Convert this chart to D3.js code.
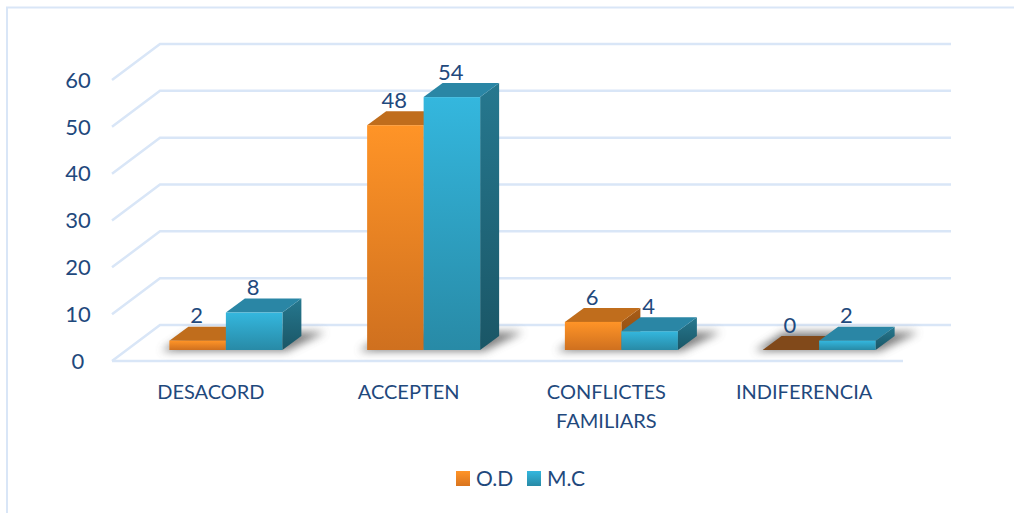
<!DOCTYPE html>
<html>
<head>
<meta charset="utf-8">
<script src="https://cdn.jsdelivr.net/npm/d3@7"></script>
<style>
  html, body { margin: 0; padding: 0; background: #fff; }
  text { font-family: Lato, "Open Sans", sans-serif; fill: #1f497d; }
</style>
</head>
<body>
<svg id="chart"></svg>
<script>
const categories = [["DESACORD"], ["ACCEPTEN"], ["CONFLICTES", "FAMILIARS"], ["INDIFERENCIA"]];
const seriesNames = ["O.D", "M.C"];
const odValues = [2, 48, 6, 0];
const mcValues = [8, 54, 4, 2];
const yTicks = [0, 10, 20, 30, 40, 50, 60];

const width = 1014;
const height = 513;
const gridColor = "#d9e6f7";
// 3d projection of the floor, in px
const floorDx = 48;
const floorDy = 36;
const baseY = 350;      // front edge of the bars
const unitSpan = 281;   // height of 0..60
const barDx = 19;
const barDy = 14;
const barWidth = 56.5;

const svg = d3.select("#chart")
  .attr("width", width)
  .attr("height", height)
  .style("display", "block");

const defs = svg.append("defs");

function addGradient(id, top, bottom) {
  const g = defs.append("linearGradient")
    .attr("id", id)
    .attr("x1", 0).attr("y1", 0).attr("x2", 0).attr("y2", 1);
  g.append("stop").attr("offset", "0%").attr("stop-color", top);
  g.append("stop").attr("offset", "100%").attr("stop-color", bottom);
}
addGradient("odFront", "#ff9427", "#cf701f");
addGradient("mcFront", "#34b7de", "#288aa6");
addGradient("odSide", "#a85c16", "#8a4b12");
addGradient("mcSide", "#26788f", "#1a5666");
addGradient("odLegend", "#ff9427", "#d9741f");
addGradient("mcLegend", "#34b7de", "#288aa6");

defs.append("filter")
  .attr("id", "blur")
  .attr("x", "-20%").attr("y", "-50%").attr("width", "140%").attr("height", "200%")
  .append("feGaussianBlur")
  .attr("stdDeviation", 4);

const xScale = d3.scaleBand()
  .domain(categories.map((d, i) => i))
  .range([112, 903]);

const yScale = d3.scaleLinear()
  .domain([0, 60])
  .range([baseY, baseY - unitSpan]);

// back wall y of a value
const backY = v => yScale(v) - 25;
const frontY = v => backY(v) + floorDy;

svg.append("path")
  .attr("d", "M7,513V7.5H1014")
  .attr("fill", "none")
  .attr("stroke", gridColor)
  .attr("stroke-width", 2);

// grid
const grid = svg.append("g");
grid.selectAll("path")
  .data(yTicks)
  .enter()
  .append("path")
  .attr("d", d => `M112,${frontY(d)}L${112 + floorDx},${backY(d)}H951`)
  .attr("fill", "none")
  .attr("stroke", gridColor)
  .attr("stroke-width", 2.5);

grid.append("path")
  .attr("d", `M112,${frontY(0)}H903`)
  .attr("fill", "none")
  .attr("stroke", gridColor)
  .attr("stroke-width", 2.5);

// y labels
svg.append("g").selectAll("text")
  .data(yTicks)
  .enter()
  .append("text")
  .attr("x", 78)
  .attr("y", d => frontY(d))
  .attr("dy", "0.35em")
  .attr("text-anchor", "middle")
  .style("font-size", "22px")
  .text(d => d);

// floor shadow under each group
const bars = svg.append("g");
bars.selectAll("path.shadow")
  .data(categories.map((d, i) => i))
  .enter()
  .append("path")
  .attr("class", "shadow")
  .attr("d", i => {
    const c = xScale(i) + xScale.bandwidth() / 2 + 15;
    const l = c - barWidth - 8;
    const r = c + barWidth + 4;
    return `M${l},${baseY + 1}H${r}L${r + barDx + 20},${baseY - barDy - 4}H${l + barDx + 10}Z`;
  })
  .attr("fill", "#555")
  .attr("opacity", 0.75)
  .attr("filter", "url(#blur)");

function drawSeries(values, offset, prefix, topColor) {
  const g = bars.append("g");
  values.forEach((v, i) => {
    const x0 = xScale(i) + xScale.bandwidth() / 2 + 15 + offset;
    const x1 = x0 + barWidth;
    const yt = yScale(v);
    g.append("path")
      .attr("d", `M${x1},${yt}L${x1 + barDx},${yt - barDy}V${baseY - barDy}L${x1},${baseY}Z`)
      .attr("fill", `url(#${prefix}Side)`);
    g.append("path")
      .attr("d", `M${x0},${yt}L${x0 + barDx},${yt - barDy}H${x1 + barDx}L${x1},${yt}Z`)
      .attr("fill", v === 0 ? "#81491a" : topColor);
    if (v > 0) {
      g.append("rect")
        .attr("x", x0)
        .attr("y", yt)
        .attr("width", barWidth)
        .attr("height", baseY - yt)
        .attr("fill", `url(#${prefix}Front)`);
    }
  });
}
drawSeries(odValues, -barWidth, "od", "#c06d1c");
drawSeries(mcValues, 0, "mc", "#2a86a5");

// value labels
[odValues, mcValues].forEach((values, s) => {
  svg.append("g").selectAll("text")
    .data(values)
    .enter()
    .append("text")
    .attr("x", (d, i) => xScale(i) + xScale.bandwidth() / 2 + 14 + (s === 0 ? -barWidth / 2 : barWidth / 2))
    .attr("y", d => yScale(d) - 25)
    .attr("dy", "0.35em")
    .attr("text-anchor", "middle")
    .style("font-size", "22px")
    .text(d => d);
});

// category labels
const catLabels = svg.append("g").selectAll("text")
  .data(categories)
  .enter()
  .append("text")
  .attr("x", (d, i) => xScale(i) + xScale.bandwidth() / 2)
  .attr("y", 392)
  .attr("text-anchor", "middle")
  .style("font-size", "20px");
catLabels.selectAll("tspan")
  .data(d => d)
  .enter()
  .append("tspan")
  .attr("x", function() { return this.parentNode.getAttribute("x"); })
  .attr("dy", (d, i) => i === 0 ? "0.35em" : "29px")
  .text(d => d);

// legend
const legendX = [456, 527];
const legend = svg.append("g").selectAll("g")
  .data(seriesNames)
  .enter()
  .append("g")
  .attr("transform", (d, i) => "translate(" + legendX[i] + ",471)");
legend.append("rect")
  .attr("width", 14)
  .attr("height", 15)
  .attr("fill", (d, i) => i === 0 ? "url(#odLegend)" : "url(#mcLegend)");
legend.append("text")
  .attr("x", 20)
  .attr("y", 8)
  .attr("dy", "0.35em")
  .style("font-size", "21px")
  .text(d => d);
</script>
</body>
</html>
